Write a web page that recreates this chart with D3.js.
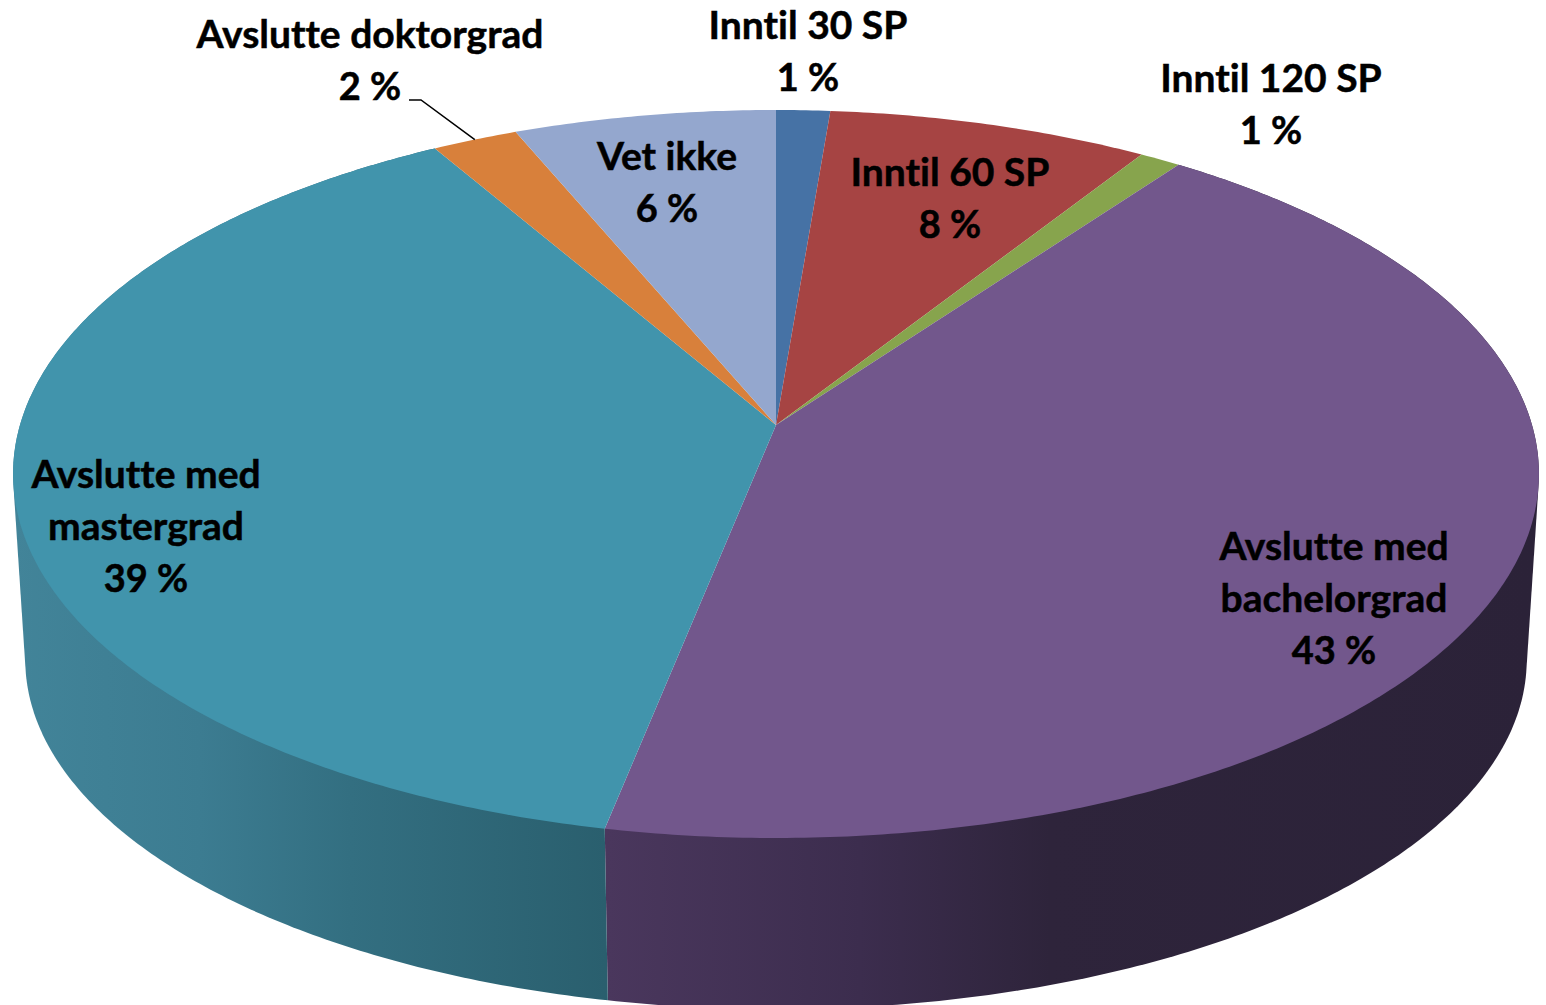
<!DOCTYPE html>
<html>
<head>
<meta charset="utf-8">
<script src="https://cdn.jsdelivr.net/npm/d3@7"></script>
<style>
    html, body { margin: 0; padding: 0; background: #fff; overflow: hidden; }
    text { font-family: Lato, "Open Sans", sans-serif; font-weight: 700; font-size: 39px; fill: #000; stroke: #000; stroke-width: 0.5px; font-variant-ligatures: none; }
    .share { font-size: 38px; }
</style>
</head>
<body>
<div id="chart"></div>
<script>
// slice shares (%), printed labels are the rounded ones
const categories = ["Inntil 30 SP", "Inntil 60 SP", "Inntil 120 SP", "Avslutte med bachelorgrad", "Avslutte med mastergrad", "Avslutte doktorgrad", "Vet ikke"];
const shares = [1.3, 7.75, 1.0, 43.1, 38.45, 2.07, 6.33];
const shareLabels = ["1 %", "8 %", "1 %", "43 %", "39 %", "2 %", "6 %"];
const sliceColors = ["#4672a5", "#a64443", "#87a44d", "#72578c", "#4194ac", "#d8803b", "#94a7ce"];

const labelLines = [
    ["Inntil 30 SP"], ["Inntil 60 SP"], ["Inntil 120 SP"],
    ["Avslutte med", "bachelorgrad"], ["Avslutte med", "mastergrad"],
    ["Avslutte doktorgrad"], ["Vet ikke"]
];
// centre x and first baseline of each label
const labelX = [808, 950, 1271, 1334, 146, 370, 667];
const labelY = [39, 186, 92, 560, 488, 48, 170];
const lineGap = 52;

const width = 1546, height = 1005;
const apexX = 776, apexY = 425;

// perspective of the pie: unit circle -> screen
const radiusX = 756, radiusY = 357.4;
const tilt = 0.1346;
// lower rim: pushed down, a bit flatter and further from the camera
const depthY = 191.5, depthFlat = 0.095, depthScale = 0.016;

function project(angle, z) {
    const u = Math.sin(angle), v = -Math.cos(angle);
    const w = 1 - tilt * v + depthScale * z;
    return [apexX + radiusX * u / w, apexY + (radiusY * (1 - depthFlat * z) * v + depthY * z) / w];
}

const pie = d3.pie().sort(null).value(d => d);
const slices = pie(shares);

function arcPoints(a0, a1, z) {
    const n = Math.max(2, Math.ceil(Math.abs(a1 - a0) / 0.01));
    return d3.range(n + 1).map(i => project(a0 + (a1 - a0) * i / n, z));
}

const svg = d3.select("#chart").append("svg")
    .attr("width", width)
    .attr("height", height)
    .attr("viewBox", `0 0 ${width} ${height}`)
    .style("display", "block");

const line = d3.line();
const defs = svg.append("defs");

// side wall gradients, only the two front slices show a wall
function wallGradient(id, stops) {
    const g = defs.append("linearGradient")
        .attr("id", id)
        .attr("gradientUnits", "userSpaceOnUse")
        .attr("x1", 0).attr("y1", 0)
        .attr("x2", width).attr("y2", 0);
    stops.forEach(s => g.append("stop").attr("offset", s[0] / width).attr("stop-color", s[1]));
}
wallGradient("wall3", [[607, "#4a375d"], [860, "#3c2d4e"], [1050, "#2e243b"], [1538, "#2b2238"]]);
wallGradient("wall4", [[12, "#428499"], [200, "#3c7c91"], [350, "#336f81"], [605, "#2a5f6e"]]);

// hull gives the straight silhouette between the two rims, the top face hides the rest
[3, 4].forEach(i => {
    const s = slices[i];
    const rim = arcPoints(s.startAngle, s.endAngle, 0).concat(arcPoints(s.startAngle, s.endAngle, 1));
    svg.append("path")
        .attr("d", line(d3.polygonHull(rim)) + "Z")
        .attr("fill", `url(#wall${i})`);
});

svg.selectAll(".slice")
    .data(slices)
    .enter().append("path")
    .attr("class", "slice")
    .attr("d", d => line([[apexX, apexY]].concat(arcPoints(d.startAngle, d.endAngle, 0))) + "Z")
    .attr("fill", (d, i) => sliceColors[i]);

// leader line of the doktorgrad label
const doktor = slices[5];
const leaderEnd = project((doktor.startAngle + doktor.endAngle) / 2, 0);
const leaderStartX = labelX[5] + 39, leaderStartY = labelY[5] + lineGap;
svg.append("path")
    .attr("d", line([[leaderStartX, leaderStartY], [leaderStartX + 12, leaderStartY], leaderEnd]))
    .attr("fill", "none")
    .attr("stroke", "#000")
    .attr("stroke-width", 1.5);

const labels = svg.selectAll(".label")
    .data(categories)
    .enter().append("text")
    .attr("class", "label")
    .attr("text-anchor", "middle");

labels.each(function(d, i) {
    const rows = labelLines[i].concat(shareLabels[i]);
    d3.select(this).selectAll("tspan")
        .data(rows)
        .enter().append("tspan")
        .attr("class", (r, j) => j === rows.length - 1 ? "share" : null)
        .attr("x", labelX[i])
        .attr("y", (r, j) => labelY[i] + j * lineGap)
        .text(r => r);
});
</script>
</body>
</html>
